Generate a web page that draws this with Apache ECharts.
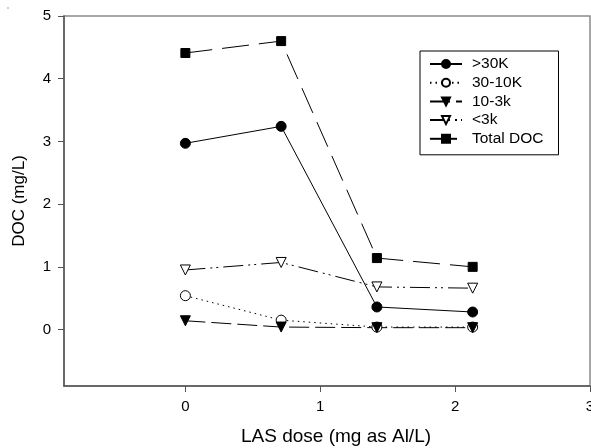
<!DOCTYPE html>
<html>
<head>
<meta charset="utf-8">
<script src="https://cdn.jsdelivr.net/npm/echarts@6/dist/echarts.min.js"></script>
<style>html,body{margin:0;padding:0;background:#fff}#c{width:591px;height:448px}</style>
</head>
<body>
<div id="c"></div>
<script>
var doseValues = [0, 0.71, 1.42, 2.13];
var seriesNames = ['>30K', '30-10K', '10-3k', '<3k', 'Total DOC'];
var over30K = [2.97, 3.24, 0.36, 0.28];
var k30to10K = [0.54, 0.15, 0.04, 0.04];
var k10to3k = [0.14, 0.04, 0.03, 0.03];
var under3k = [0.95, 1.07, 0.68, 0.66];
var totalDOC = [4.41, 4.60, 1.14, 1.00];
var xTicks = [0, 1, 2, 3];
var yTicks = [0, 1, 2, 3, 4, 5];

function pairs(vals) { return doseValues.map(function (x, i) { return [x, vals[i]]; }); }

var FONT = 'Liberation Sans, Arial, sans-serif';
var chart = echarts.init(document.getElementById('c'), null, { renderer: 'canvas' });

function mk(name, vals, symbol, size, rot, fill, dash) {
  return {
    name: name, type: 'line', data: pairs(vals),
    symbol: symbol, symbolSize: size, symbolRotate: rot,
    itemStyle: { color: fill, borderColor: '#000', borderWidth: 1 },
    lineStyle: { color: '#000', width: 1, type: dash },
    color: '#000',
    animation: false, z: 3
  };
}

chart.setOption({
  animation: false,
  backgroundColor: '#fff',
  textStyle: { fontFamily: FONT },
  grid: { left: 64, right: 1, top: 16, bottom: 62, show: true, borderColor: '#8a8a8a', borderWidth: 1.5, backgroundColor: 'transparent', outerBoundsMode: 'none', containLabel: false },
  xAxis: {
    type: 'value', min: -0.9, max: 3,
    name: 'LAS dose (mg as Al/L)', nameLocation: 'middle', nameGap: 41,
    nameTextStyle: { fontSize: 19, color: '#000', fontFamily: FONT, padding: [0, 0, 0, 18] },
    axisLine: { show: true, onZero: false, lineStyle: { color: '#555', width: 1.5 } },
    axisTick: { show: true, inside: false, length: 6, customValues: xTicks, lineStyle: { color: '#555' } },
    axisLabel: { customValues: xTicks, fontSize: 15, color: '#000', margin: 13, fontFamily: FONT },
    splitLine: { show: false }
  },
  yAxis: {
    type: 'value', min: -0.9, max: 5,
    name: 'DOC (mg/L)', nameLocation: 'middle', nameGap: 36, nameRotate: 90,
    nameTextStyle: { fontSize: 17, color: '#000', fontFamily: FONT },
    axisLine: { show: true, onZero: false, lineStyle: { color: '#555', width: 1.5 } },
    axisTick: { show: true, inside: false, length: 6, customValues: yTicks, lineStyle: { color: '#555' } },
    axisLabel: { customValues: yTicks, fontSize: 15, color: '#000', margin: 13, fontFamily: FONT },
    splitLine: { show: false }
  },
  legend: {
    orient: 'vertical', left: 420, top: 51,
    padding: [5, 15, 8, 9],
    borderColor: '#000', borderWidth: 1, backgroundColor: '#fff',
    itemWidth: 32, itemHeight: 10, itemGap: 2.7,
    textStyle: { fontSize: 15.5, color: '#000', fontFamily: FONT, lineHeight: 16, padding: [0, 0, 0, 5] },
    data: seriesNames
  },
  graphic: [{ type: 'circle', shape: { cx: 8, cy: 8, r: 0.7 }, style: { fill: '#777' } }],
  series: [
    mk(seriesNames[0], over30K, 'circle', 10, 0, '#000', 'solid'),
    mk(seriesNames[1], k30to10K, 'circle', 10, 0, '#fff', [1.5, 4]),
    mk(seriesNames[2], k10to3k, 'triangle', 10, 180, '#000', [20, 6]),
    mk(seriesNames[3], under3k, 'triangle', 10, 180, '#fff', [20, 5, 2, 4, 2, 5]),
    mk(seriesNames[4], totalDOC, 'rect', 9, 0, '#000', [27, 10])
  ]
});
</script>
</body>
</html>
